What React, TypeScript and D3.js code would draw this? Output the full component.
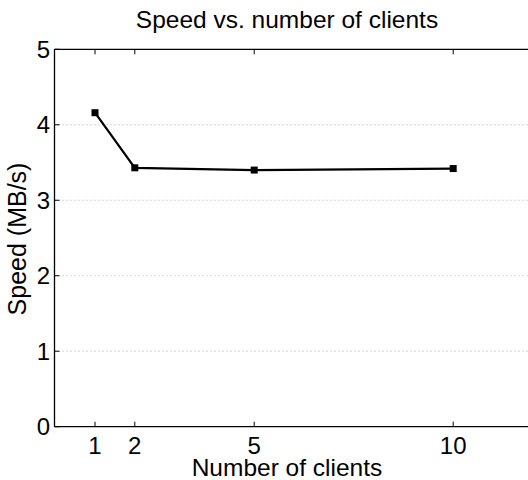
import React from "react";
import * as d3 from "d3";

const clients = [1, 2, 5, 10];
const speeds = [4.16, 3.43, 3.40, 3.42];
const xTicks = [1, 2, 5, 10];
const yTicks = [0, 1, 2, 3, 4, 5];
const gridValues = [1, 2, 3, 4];

const W = 528;
const H = 480;
const left = 54.5;
const top = 49.3;
const bottom = 426.7;

export default function App() {
  const x = d3.scaleLinear().domain([0, 12]).range([55.2, 532.8]);
  const y = d3.scaleLinear().domain([0, 5]).range([bottom, top]);
  const line = d3
    .line<number>()
    .x((_, i) => x(clients[i]))
    .y((d) => y(d));
  const font = "'Liberation Sans', Arial, Helvetica, sans-serif";

  return (
    <svg
      width={W}
      height={H}
      style={{ position: "absolute", left: 0, top: 0, background: "#fff" }}
      fontFamily={font}
    >
      <rect x={0} y={0} width={W} height={H} fill="#fff" />
      {gridValues.map((v) => (
        <line
          key={"g" + v}
          x1={left}
          x2={W}
          y1={y(v)}
          y2={y(v)}
          stroke="#b0b0b0"
          strokeWidth={1}
          strokeDasharray="1 3"
        />
      ))}
      {/* axis frame: left, bottom, top */}
      <line x1={left} x2={left} y1={top} y2={bottom} stroke="#000" strokeWidth={1.3} />
      <line x1={left} x2={W} y1={bottom} y2={bottom} stroke="#000" strokeWidth={1.3} />
      <line x1={left} x2={W} y1={top} y2={top} stroke="#000" strokeWidth={1.3} />
      {xTicks.map((t) => (
        <g key={"xt" + t}>
          <line x1={x(t)} x2={x(t)} y1={bottom} y2={bottom - 5} stroke="#000" strokeWidth={1} />
          <line x1={x(t)} x2={x(t)} y1={top} y2={top + 5} stroke="#000" strokeWidth={1} />
          <text x={x(t)} y={454} textAnchor="middle" fontSize={24} fill="#000">
            {t}
          </text>
        </g>
      ))}
      {yTicks.map((t) => (
        <g key={"yt" + t}>
          <line x1={left} x2={left + 5} y1={y(t)} y2={y(t)} stroke="#000" strokeWidth={1} />
          <text
            x={50}
            y={y(t) + 8.6}
            textAnchor="end"
            fontSize={24}
            fill="#000"
          >
            {t}
          </text>
        </g>
      ))}
      <path d={line(speeds) || ""} fill="none" stroke="#000" strokeWidth={2.2} />
      {speeds.map((v, i) => (
        <rect
          key={"m" + i}
          x={x(clients[i]) - 3.5}
          y={y(v) - 3.5}
          width={7}
          height={7}
          fill="#000"
        />
      ))}
      <text x={287} y={28} textAnchor="middle" fontSize={24.5} fill="#000">
        Speed vs. number of clients
      </text>
      <text x={287} y={476} textAnchor="middle" fontSize={24.5} fill="#000">
        Number of clients
      </text>
      <text
        transform={`translate(25.5,239) rotate(-90)`}
        textAnchor="middle"
        fontSize={25}
        fill="#000"
      >
        Speed (MB/s)
      </text>
    </svg>
  );
}
